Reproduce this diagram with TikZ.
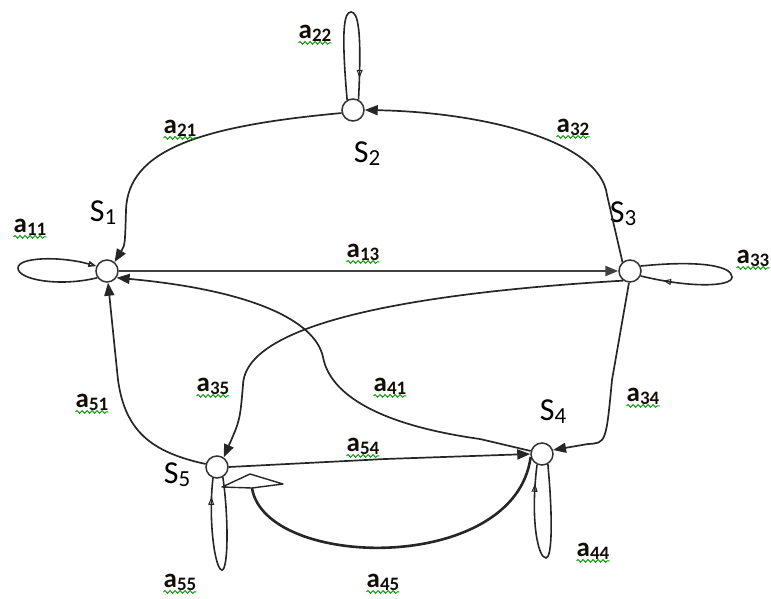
\documentclass[tikz,border=0pt]{standalone}
\usepackage{fontspec}
\setmainfont{Carlito}
\usetikzlibrary{arrows.meta,decorations.pathmorphing,decorations.markings}
\newcommand{\alab}[1]{a\raisebox{-3pt}{\fontsize{19}{19}\selectfont #1}}
\newcommand{\slab}[1]{S\raisebox{-3pt}{\fontsize{23}{23}\selectfont #1}}
\tikzset{
  state/.style={circle,draw=black!80,line width=1.5pt,fill=white,minimum size=22pt,inner sep=0pt},
  edge/.style={draw=black!85,line width=1.7pt,-{Triangle[length=13pt,width=10pt]}},
  thickedge/.style={draw=black!85,line width=2.6pt},
  loopline/.style={draw=black!85,line width=1.6pt},
  openmark/.style={postaction={decorate,decoration={markings,mark=at position #1 with {\arrow[line width=1pt]{Triangle[open,length=8pt,width=6pt]}}}}},
  snam/.style={font=\fontsize{32}{32}\selectfont,inner sep=0pt},
  lab/.style={font=\fontsize{27}{27}\selectfont\bfseries,text=black!90!brown,inner sep=0pt},
  squig/.style={draw=green!60!black,line width=0.9pt,decorate,decoration={snake,amplitude=1.4pt,segment length=5pt}}
}
\begin{document}
\begin{tikzpicture}[x=1pt,y=-1pt]
\useasboundingbox (0,0) rectangle (771,598);
% states
\node[state] (s1) at (107,271) {};
\node[state] (s2) at (353,110) {};
\node[state] (s3) at (630,271) {};
\node[state] (s4) at (542,454) {};
\node[state] (s5) at (217,467) {};
% state names
\node[snam] (n1) at (103,213) {\slab{1}};
\node[snam] (n2) at (367,154) {\slab{2}};
\node[snam] (n3) at (623,214) {\slab{3}};
\node[snam] (n4) at (553,412) {\slab{4}};
\node[snam] (n5) at (177,475) {\slab{5}};
% a21
\draw[edge] (s2.195) .. controls (200,126) and (128,150) .. (126,210) .. controls (125,245) .. (s1.50);
% a32
\draw[edge] (s3.130) -- (607,195) .. controls (600,140) and (480,112) .. (s2.east);
% a13
\draw[edge,line width=2.4pt,draw=black!75] (s1.east) -- (s3.west);
% a35
\draw[edge] (s3.235) .. controls (430,292) and (245,320) .. (243,385) .. controls (240,420) .. (s5.55);
% a41
\draw[edge] (s4.165) -- (480,439) .. controls (380,425) and (330,395) .. (323,357) .. controls (315,320) and (250,290) .. (s1.-35);
% a51
\draw[edge] (s5.165) .. controls (150,452) and (125,430) .. (118,380) -- (s1.-85);
% a34
\draw[edge] (s3.-95) -- (612,380) .. controls (606,443) .. (588,444) -- (s4.20);
% a54
\draw[edge] (s5.east) -- (385,459) -- (s4.west);
% a45
\coordinate (h45) at (252,488);
\draw[thickedge] (s4.195) .. controls (515,575) and (265,570) .. (h45);
\draw[draw=black!85,line width=1.4pt,fill=white,line join=round] (222,487) -- (250,474) -- (283,484) -- (h45) -- cycle;
% loops
\draw[loopline,-{Triangle[open,length=8pt,width=6pt]}] (s1.-145) .. controls (60,287) and (18,280) .. (18,268) .. controls (18,257) and (60,256) .. (s1.155);
\draw[loopline,openmark=0.88] (s2.120) .. controls (341,30) and (344,12) .. (351,12) .. controls (358,12) and (362,30) .. (s2.62);
\draw[loopline,openmark=0.88] (s3.25) .. controls (700,260) and (732,266) .. (732,277) .. controls (732,287) and (690,288) .. (s3.-25);
\draw[loopline,openmark=0.9] (s4.-60) .. controls (553,520) and (552,558) .. (546,558) .. controls (538,558) and (530,520) .. (s4.-115);
\draw[loopline,openmark=0.9] (s5.-60) .. controls (229,520) and (228,570) .. (222,570) .. controls (215,570) and (208,520) .. (s5.-110);
% labels
\foreach \n/\x/\y in {22/315/33, 21/180/128, 32/573/127, 11/30/227, 13/363/252, 33/753/258, 35/213/386, 41/390/386, 51/92/402, 34/643/396, 54/363/446, 44/593/551, 55/180/582, 45/383/582}{
  \node[lab] (l\n) at (\x,\y) {\alab{\n}};
  \draw[squig] ([yshift=-1.5pt]l\n.south west) -- ([yshift=-1.5pt]l\n.south east);
}
\end{tikzpicture}
\end{document}
